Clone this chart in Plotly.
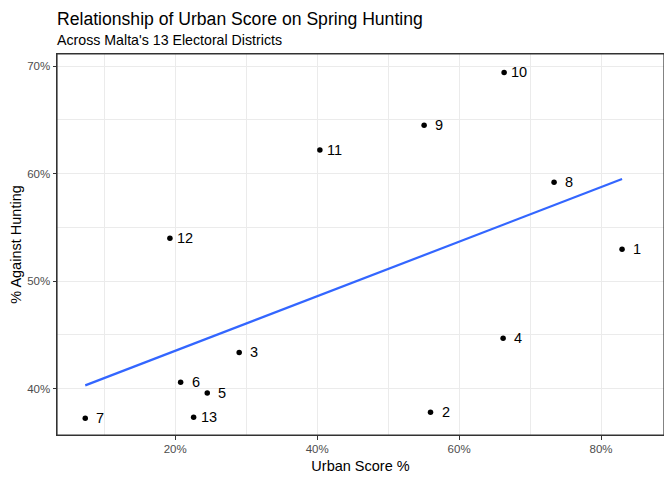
import numpy as np
import plotly.graph_objects as go

districts = ["1", "2", "3", "4", "5", "6", "7", "8", "9", "10", "11", "12", "13"]
urban_score = [82.96, 55.97, 29.01, 66.20, 24.51, 20.76, 7.32, 73.38, 55.07, 66.34, 40.38, 19.25, 22.59]
against_hunting = [52.96, 37.81, 43.38, 44.69, 39.60, 40.60, 37.25, 59.19, 64.49, 69.41, 62.19, 53.98, 37.34]
x_ticks = [20, 40, 60, 80]
y_ticks = [40, 50, 60, 70]

x = np.array(urban_score)
y = np.array(against_hunting)
slope, intercept = np.polyfit(x, y, 1)
xs = np.linspace(x.min(), x.max(), 80)
ys = slope * xs + intercept

fig = go.Figure()
fig.add_trace(go.Scatter(x=xs, y=ys, mode="lines",
                         line=dict(color="#3366FF", width=2.2), hoverinfo="skip"))
fig.add_trace(go.Scatter(x=x, y=y, mode="markers",
                         marker=dict(color="black", size=5.5)))
for xi, yi, lab in zip(urban_score, against_hunting, districts):
    fig.add_annotation(x=xi, y=yi, text=lab, showarrow=False, xshift=15,
                       font=dict(size=14.5, color="black"), xanchor="center", yanchor="middle")

axis_common = dict(showline=True, linecolor="#333333", linewidth=1, mirror=True,
                   gridcolor="#EBEBEB", gridwidth=1, zeroline=False,
                   ticks="outside", ticklen=3.5, tickcolor="#333333", tickwidth=1,
                   tickfont=dict(size=11.5, color="#4D4D4D"))
fig.update_xaxes(range=[3.34, 88.87], tickmode="array", tickvals=x_ticks,
                 ticktext=[f"{v}%" for v in x_ticks],
                 minor=dict(tickvals=[10, 30, 50, 70], showgrid=True, gridcolor="#EBEBEB", gridwidth=0.7, ticks=""),
                 title=dict(text="Urban Score %", font=dict(size=14.5, color="black"), standoff=6),
                 **axis_common)
fig.update_yaxes(range=[35.70, 71.12], tickmode="array", tickvals=y_ticks,
                 ticktext=[f"{v}%" for v in y_ticks],
                 minor=dict(tickvals=[45, 55, 65], showgrid=True, gridcolor="#EBEBEB", gridwidth=0.7, ticks=""),
                 title=dict(text="% Against Hunting", font=dict(size=14.5, color="black"), standoff=4),
                 **axis_common)

# panel border
fig.add_shape(type="rect", xref="paper", yref="paper", x0=0, y0=0, x1=1, y1=1,
              line=dict(color="#333333", width=1.2), fillcolor="rgba(0,0,0,0)", layer="above")

fig.add_annotation(xref="paper", yref="paper", x=0, y=1, xshift=-2, yshift=23, xanchor="left", yanchor="bottom",
                   text="Relationship of Urban Score on Spring Hunting", showarrow=False,
                   font=dict(size=17.6, color="black"))
fig.add_annotation(xref="paper", yref="paper", x=0, y=1, xshift=-2, yshift=4, xanchor="left", yanchor="bottom",
                   text="Across Malta's 13 Electoral Districts", showarrow=False,
                   font=dict(size=14.2, color="black"))

# the page body adds an 8px offset, so the figure is sized to fit the window
fig.update_layout(width=664, height=472, showlegend=False,
                  plot_bgcolor="white", paper_bgcolor="white",
                  margin=dict(l=49, r=8, t=46, b=45, autoexpand=False),
                  font=dict(family="Liberation Sans, Arial, sans-serif"))
fig.write_html("out.html")
